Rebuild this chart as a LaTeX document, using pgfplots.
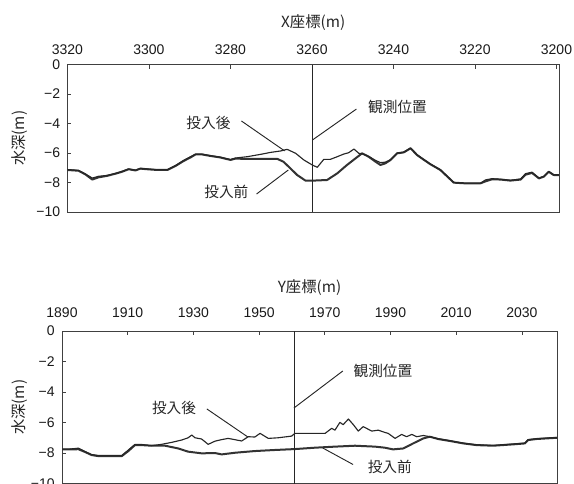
\documentclass[border=0pt]{standalone}
\usepackage{pgfplots}
\pgfplotsset{compat=1.18}
\usepackage{fontspec}
\setmainfont{Liberation Sans}
\newfontfamily\jp{Noto Sans CJK JP}

\pgfplotstableread{
x y
3320 -7.15
3317.3 -7.2
3315.6 -7.45
3313.9 -7.8
3312.4 -7.65
3310.3 -7.55
3308.2 -7.4
3306.6 -7.27
3305.0 -7.1
3303.3 -7.18
3302.1 -7.06
3300.4 -7.1
3298.0 -7.15
3295.5 -7.15
3293.5 -6.88
3291.5 -6.54
3289.8 -6.3
3288.6 -6.1
3286.9 -6.1
3284.9 -6.2
3282.5 -6.3
3280.0 -6.47
3278.8 -6.38
3275.9 -6.4
3268.5 -6.4
3267.0 -6.59
3265.3 -7.04
3263.6 -7.5
3261.6 -7.87
3259.6 -7.87
3256.3 -7.83
3253.8 -7.38
3251.4 -6.81
3249.3 -6.36
3247.7 -6.02
3246.1 -6.25
3244.4 -6.59
3243.2 -6.81
3242.0 -6.7
3240.7 -6.47
3239.1 -6.02
3237.5 -5.96
3235.8 -5.68
3234.2 -6.14
3232.5 -6.47
3230.9 -6.77
3228.5 -7.15
3227.2 -7.49
3225.2 -8.01
3222.8 -8.05
3218.6 -8.05
3217.4 -7.92
3215.8 -7.78
3213.7 -7.8
3211.3 -7.87
3208.8 -7.8
3207.6 -7.47
3206.0 -7.35
3204.3 -7.72
3203.1 -7.6
3201.9 -7.27
3200.7 -7.49
3199.4 -7.5
}\topbefore

\pgfplotstableread{
x y
3320 -7.12
3317.3 -7.18
3315.6 -7.42
3313.9 -7.7
3312.4 -7.58
3310.3 -7.52
3308.2 -7.38
3306.6 -7.24
3305.0 -7.08
3303.3 -7.16
3302.1 -7.04
3300.4 -7.08
3298.0 -7.13
3295.5 -7.13
3293.5 -6.85
3291.5 -6.5
3289.8 -6.25
3288.6 -6.08
3286.9 -6.08
3284.9 -6.18
3282.5 -6.28
3280.0 -6.44
3278.8 -6.34
3275.9 -6.25
3272.6 -6.09
3270.2 -5.96
3267.7 -5.86
3266.1 -5.75
3264.0 -6.02
3262.0 -6.47
3260.0 -6.8
3258.7 -6.97
3257.1 -6.43
3255.5 -6.43
3253.8 -6.25
3252.2 -6.07
3251.0 -5.98
3249.7 -5.73
3248.5 -6.02
3247.7 -6.05
3246.1 -6.22
3244.4 -6.5
3243.2 -6.65
3242.0 -6.62
3240.7 -6.45
3239.1 -6.0
3237.5 -5.94
3235.8 -5.66
3234.2 -6.12
3232.5 -6.45
3230.9 -6.75
3228.5 -7.13
3227.2 -7.47
3225.2 -8.0
3222.8 -8.04
3218.6 -8.04
3217.4 -7.82
3215.8 -7.74
3213.7 -7.78
3211.3 -7.85
3208.8 -7.76
3207.6 -7.4
3206.0 -7.3
3204.3 -7.7
3203.1 -7.58
3201.9 -7.25
3200.7 -7.47
3199.4 -7.48
}\topafter

\pgfplotstableread{
x y
1890 -7.76
1892.4 -7.76
1895.0 -7.75
1897.0 -7.93
1899.0 -8.13
1901.0 -8.2
1904.1 -8.2
1908.2 -8.2
1910.2 -7.87
1912.2 -7.48
1914.3 -7.48
1917.3 -7.52
1921.4 -7.52
1925.4 -7.7
1928.4 -7.91
1932.5 -8.02
1936.6 -8.0
1938.6 -8.09
1942.7 -7.98
1948.7 -7.87
1954.8 -7.8
1960.9 -7.74
1967.0 -7.65
1973.1 -7.58
1979.2 -7.52
1985.3 -7.58
1988.3 -7.65
1990.8 -7.76
1993.9 -7.7
1996.9 -7.37
2000.0 -7.04
2002.0 -6.93
2004.5 -7.08
2008.1 -7.21
2012.2 -7.37
2016.2 -7.48
2021.3 -7.52
2027.4 -7.43
2030.9 -7.37
2031.9 -7.15
2034.5 -7.08
2037.5 -7.04
2040.7 -7.0
}\botbefore

\pgfplotstableread{
x y
1890 -7.74
1892.4 -7.74
1895.0 -7.68
1897.0 -7.9
1899.0 -8.1
1901.0 -8.16
1904.1 -8.16
1908.2 -8.16
1910.2 -7.8
1912.2 -7.44
1914.3 -7.44
1917.3 -7.52
1920.3 -7.43
1923.4 -7.3
1926.4 -7.15
1928.4 -7.0
1929.5 -6.82
1930.5 -7.0
1932.5 -7.08
1934.5 -7.43
1936.6 -7.22
1938.6 -7.12
1940.6 -7.04
1944.7 -7.21
1946.7 -6.93
1948.7 -6.95
1950.3 -6.71
1952.8 -7.04
1955.8 -7.0
1959.9 -6.89
1960.9 -6.71
1965.0 -6.71
1970.1 -6.71
1972.1 -6.38
1973.1 -6.5
1974.6 -5.99
1975.6 -6.14
1977.2 -5.77
1978.7 -6.14
1980.2 -6.56
1981.7 -6.27
1984.3 -6.56
1986.3 -6.5
1988.3 -6.65
1989.3 -6.71
1991.4 -7.04
1993.4 -6.78
1994.9 -6.93
1996.5 -6.78
1998.0 -6.93
2000.0 -6.85
2002.0 -6.93
2004.5 -7.06
2008.1 -7.19
2012.2 -7.35
2016.2 -7.46
2021.3 -7.5
2027.4 -7.41
2030.9 -7.35
2031.9 -7.12
2034.5 -7.06
2037.5 -7.02
2040.7 -6.98
}\botafter

\pgfplotsset{
  myax/.style={
    scale only axis,
    axis line style={black!75, line width=0.6pt},
    tick style={black!75, line width=0.5pt},
    major tick length=3pt,
    tick align=inside,
    xtick pos=right, xticklabel pos=right,
    ytick pos=left,
    ymin=-10, ymax=0,
    ytick={-10,-8,-6,-4,-2,0},
    yticklabels={−10,−8,−6,−4,−2,0},
    ticklabel style={font=\fontsize{10.5}{12}\selectfont, text=black!90},
    xticklabel style={anchor=center},
    yticklabel style={anchor=east, xshift=-2pt},
    label style={font=\jp\fontsize{11.5}{13}\selectfont, text=black!85},
    x label style={anchor=center},
    y label style={anchor=center},
  },
}
\tikzset{
  befstyle/.style={black!80, line width=1.5pt, line join=round},
  aftstyle/.style={black!85, line width=0.85pt, line join=round},
  ann/.style={font=\jp\fontsize{11}{13}\selectfont, text=black!85},
  annline/.style={black!85, line width=0.7pt},
}

\begin{document}
\begin{tikzpicture}
\path[use as bounding box] (0,0) rectangle (430.5pt,-362.25pt);
\clip (0,0) rectangle (430.5pt,-362.25pt);

\begin{axis}[myax,
  at={(50.6pt,-48.4pt)}, anchor=north west,
  width=368.6pt, height=110.6pt,
  x dir=reverse, xmin=3199.4, xmax=3320,
  xtick={3200,3220,3240,3260,3280,3300,3320},
  xticklabels={3200,3220,3240,3260,3280,3300,3320},
  xticklabel style={yshift=11.3pt},
  xlabel={X座標(m)},
  x label style={at={(axis description cs:0.5,1.288)}},
  ylabel={水深(m)},
  y label style={at={(axis description cs:-0.0966,0.5)}},
]
\addplot[befstyle] table[x=x,y=y] {\topbefore};
\addplot[aftstyle] table[x=x,y=y] {\topafter};
\draw[black!85, line width=0.6pt] (axis cs:3260,0) -- (axis cs:3260,-10);
\node[ann] at (axis cs:3285.4,-3.97) {投入後};
\draw[annline] (axis cs:3277.3,-3.83) -- (axis cs:3266.7,-5.86);
\node[ann] at (axis cs:3281.0,-8.64) {投入前};
\draw[annline] (axis cs:3273.6,-8.78) -- (axis cs:3265.8,-7.15);
\node[ann] at (axis cs:3239.0,-2.88) {観測位置};
\draw[annline] (axis cs:3249.1,-3.02) -- (axis cs:3259.9,-5.12);
\end{axis}

\begin{axis}[myax,
  at={(46.5pt,-248.25pt)}, anchor=north west,
  width=371.25pt, height=114.4pt,
  xmin=1890, xmax=2040.7,
  xtick={1890,1910,1930,1950,1970,1990,2010,2030},
  xticklabels={1890,1910,1930,1950,1970,1990,2010,2030},
  xticklabel style={yshift=13.5pt},
  xlabel={Y座標(m)},
  x label style={at={(axis description cs:0.5,1.288)}},
  ylabel={水深(m)},
  y label style={at={(axis description cs:-0.0848,0.5)}},
]
\addplot[befstyle] table[x=x,y=y] {\botbefore};
\addplot[aftstyle] table[x=x,y=y] {\botafter};
\draw[black!85, line width=0.6pt] (axis cs:1960.6,0) -- (axis cs:1960.6,-10);
\node[ann] at (axis cs:1924.1,-5.05) {投入後};
\draw[annline] (axis cs:1934.1,-5.11) -- (axis cs:1946.6,-6.95);
\node[ann] at (axis cs:1987.7,-2.62) {観測位置};
\draw[annline] (axis cs:1975.5,-2.62) -- (axis cs:1960.6,-5.05);
\node[ann] at (axis cs:1989.8,-8.92) {投入前};
\draw[annline] (axis cs:1969.4,-7.67) -- (axis cs:1978.6,-8.75);
\end{axis}
\end{tikzpicture}
\end{document}
